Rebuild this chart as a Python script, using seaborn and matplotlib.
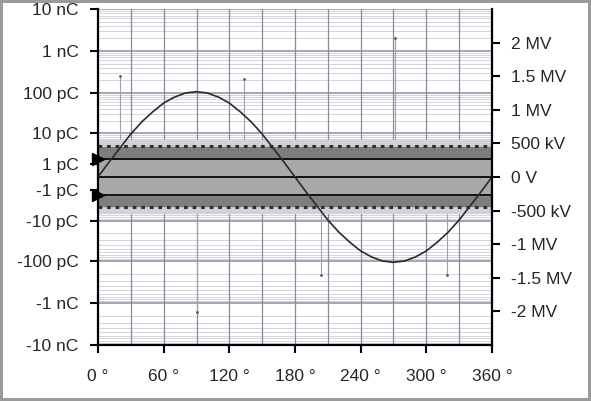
import numpy as np
import matplotlib
matplotlib.use("Agg")
import matplotlib.pyplot as plt
import seaborn as sns

# --- data ---
phase_deg = list(range(0, 361, 10))
voltage_mv = [0.0, 0.22, 0.43, 0.64, 0.82, 0.97, 1.10, 1.19, 1.25, 1.27,
              1.25, 1.19, 1.10, 0.97, 0.82, 0.64, 0.43, 0.22, 0.0,
              -0.22, -0.43, -0.64, -0.82, -0.97, -1.10, -1.19, -1.25, -1.27,
              -1.25, -1.19, -1.10, -0.97, -0.82, -0.64, -0.43, -0.22, 0.0]

pulse_phase = [20, 90, 133, 204, 271, 319]
pulse_charge_pc = [250, -1600, 220, -210, 2000, -210]

# noise band levels (pC): light zone, dense noise edge, threshold
band_light = (6.6, -6.2)
band_dense = (4.2, -3.9)
threshold_pc = 1.7

charge_ticks = [10000, 1000, 100, 10, 1, -1, -10, -100, -1000, -10000]
charge_labels = ["10 nC", "1 nC", "100 pC", "10 pC", "1 pC", "-1 pC",
                 "-10 pC", "-100 pC", "-1 nC", "-10 nC"]
volt_ticks = [2, 1.5, 1, 0.5, 0, -0.5, -1, -1.5, -2]
volt_labels = ["2 MV", "1.5 MV", "1 MV", "500 kV", "0 V", "-500 kV",
               "-1 MV", "-1.5 MV", "-2 MV"]
phase_ticks = [0, 60, 120, 180, 240, 300, 360]


def fwd(y):
    y = np.asarray(y, dtype=float)
    return np.sign(y) * np.log10(1 + np.abs(y))


def inv(t):
    t = np.asarray(t, dtype=float)
    return np.sign(t) * (10 ** np.abs(t) - 1)


sns.set_style("white")
plt.rcParams["font.family"] = ["Liberation Sans", "DejaVu Sans"]
plt.rcParams["font.size"] = 12.5

fig = plt.figure(figsize=(5.91, 4.01), dpi=100)
fig.patch.set_edgecolor("#9a9a9a")
fig.patch.set_linewidth(3)
ax = fig.add_axes([98 / 591, 1 - 345 / 401, 394 / 591, 336 / 401])

ax.set_yscale("function", functions=(fwd, inv))
ax.set_ylim(-10000, 10000)
ax.set_xlim(0, 360)

# grid
minor = []
for dec in [1, 10, 100, 1000]:
    for k in range(2, 10):
        minor += [k * dec, -k * dec]
for y in minor:
    ax.axhline(y, color="#d4d4de", lw=0.7, zorder=0)
for y in charge_ticks:
    ax.axhline(y, color="#a4a4b2", lw=1.4, zorder=0)
for x in range(30, 360, 30):
    ax.axvline(x, color="#8a8a98", lw=0.9, zorder=0.5)

# discharge pulses (behind the noise band)
ax.vlines(pulse_phase, 0, pulse_charge_pc, color="#a2a2a2", lw=0.8, zorder=0.8)
ax.scatter(pulse_phase, pulse_charge_pc, s=4, color="#555555", lw=0, zorder=0.9)

# noise band
ax.axhspan(band_light[1], band_light[0], color="#d2d2d6", zorder=1)
ax.axhspan(band_dense[1], band_dense[0], color="#7e7e7e", zorder=1.1)
ax.axhspan(-threshold_pc, threshold_pc, color="#a9a9ab", zorder=1.2)
ax.axhline(band_dense[0] + 0.4, color="#2e2e2e", lw=2.2, ls=(0, (1.2, 1.6)), zorder=1.3)
ax.axhline(band_dense[1] - 0.4, color="#2e2e2e", lw=2.2, ls=(0, (1.2, 1.6)), zorder=1.3)
for y in [threshold_pc, 0, -threshold_pc]:
    ax.axhline(y, color="#111111", lw=1.4, zorder=1.4)
ax.plot([0, 0], [threshold_pc, -threshold_pc], ls="none", marker=">",
        ms=9, color="black", clip_on=False, zorder=5)

ax.set_yticks(charge_ticks)
ax.set_yticklabels(charge_labels)
ax.yaxis.set_minor_locator(matplotlib.ticker.NullLocator())
for t, v in zip(ax.yaxis.get_major_ticks(), charge_ticks):
    if abs(v) == 1:
        t.tick1line.set_visible(False)
ax.set_xticks(phase_ticks)
ax.set_xticklabels([f"{p} \u00b0" for p in phase_ticks])
ax.tick_params(axis="y", length=6, width=1.5, pad=8, left=True, color="black")
ax.tick_params(axis="x", length=6, width=1.5, pad=11, bottom=True, color="black")
for side in ["left", "bottom"]:
    ax.spines[side].set_color("black")
    ax.spines[side].set_linewidth(1.6)
ax.spines["top"].set_visible(False)
ax.spines["right"].set_visible(False)

# supply voltage on right axis
ax2 = ax.twinx()
sns.lineplot(x=phase_deg, y=voltage_mv, ax=ax2, color="#2a2a2a", lw=1.2)
ax2.set_ylim(-2.5, 2.5)
ax2.set_xlim(0, 360)
ax2.set_yticks(volt_ticks)
ax2.set_yticklabels(volt_labels)
ax2.tick_params(axis="y", length=6, width=1.5, pad=8, right=True, color="black")
ax2.spines["right"].set_color("black")
ax2.spines["right"].set_linewidth(1.6)
for side in ["left", "top", "bottom"]:
    ax2.spines[side].set_visible(False)
ax2.set_ylabel("")

fig.savefig("out.png", dpi=100, facecolor="white")
